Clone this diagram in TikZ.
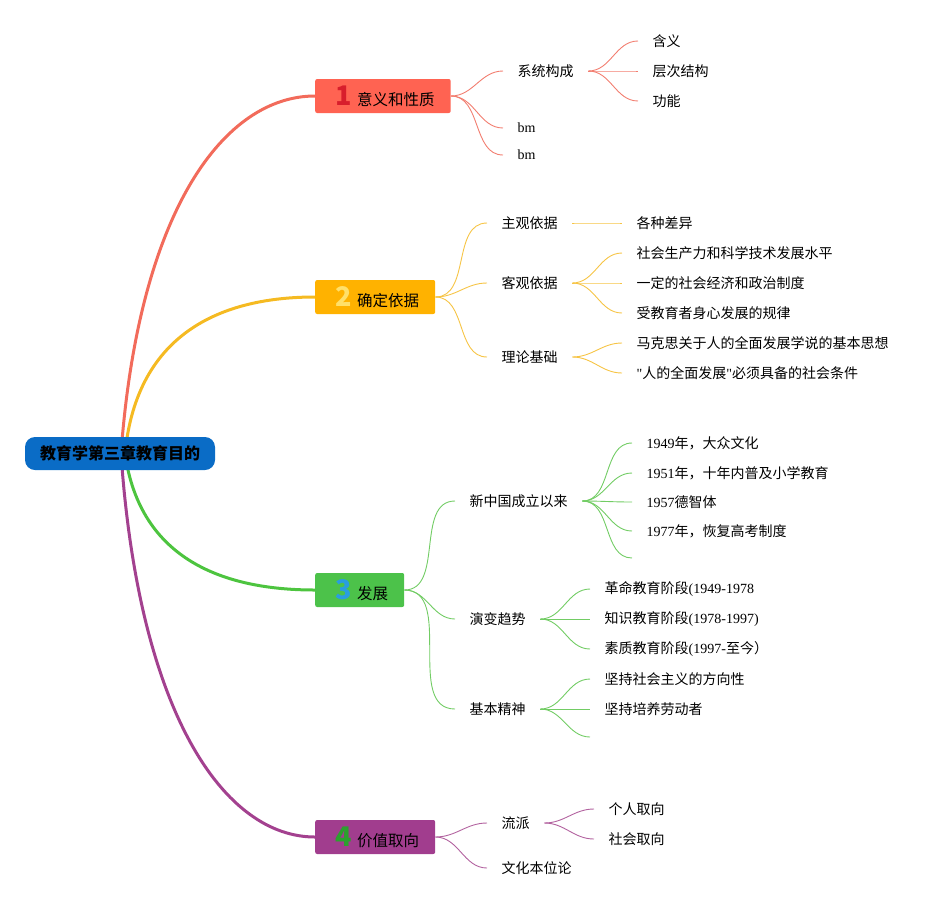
\documentclass[tikz,border=0pt]{standalone}
\usepackage{fontspec}
\setmainfont{Noto Sans CJK SC}
\newfontfamily\latinserif{Liberation Serif}
\usetikzlibrary{positioning,backgrounds}

\definecolor{rootblue}{HTML}{0A6CC6}
\definecolor{topicred}{HTML}{FF6352}
\definecolor{topicyellow}{HTML}{FFB200}
\definecolor{topicgreen}{HTML}{4CC24A}
\definecolor{topicpurple}{HTML}{A13D8E}
\definecolor{numred}{HTML}{D81E2C}
\definecolor{numyellow}{HTML}{FFE06A}
\definecolor{numblue}{HTML}{2A9DE0}
\definecolor{numgreen}{HTML}{2CA02E}
\definecolor{limbred}{HTML}{F26B5B}
\definecolor{limbyellow}{HTML}{F5BA22}
\definecolor{limbgreen}{HTML}{4DC43F}
\definecolor{limbpurple}{HTML}{A3418F}
\definecolor{twigred}{HTML}{F27E70}
\definecolor{twigyellow}{HTML}{F6C445}
\definecolor{twiggreen}{HTML}{72CC64}
\definecolor{twigpurple}{HTML}{B2629F}

\newcommand\topicnum[2]{\makebox[26pt][c]{\color{#1}\fontsize{27}{27}\selectfont\bfseries #2}}

\begin{document}
\begin{tikzpicture}[
  x=1pt,y=-1pt,
  font=\fontsize{14}{16}\selectfont,
  topicbox/.style={anchor=west,rounded corners=2pt,minimum height=34pt,
    inner xsep=16pt,inner ysep=0pt,font=\fontsize{15.5}{17}\selectfont},
  subitem/.style={anchor=west,inner xsep=14.5pt,inner ysep=2pt},
  limb/.style={line width=3pt},
  twig/.style={line width=.9pt},
  branch/.style={out=0,in=180}
]
\useasboundingbox (0,0) rectangle (949,908);
% root and the four topics
\node[fill=rootblue,rounded corners=10pt,minimum width=190pt,minimum height=33pt,
  font=\bfseries\fontsize{16}{18}\selectfont] (root) at (120,453.5) {教育学第三章教育目的};
\node[topicbox,fill=topicred] (meaning) at (315,96) {\topicnum{numred}{1}意义和性质};
\node[topicbox,fill=topicyellow] (basis) at (315,297) {\topicnum{numyellow}{2}确定依据};
\node[topicbox,fill=topicgreen] (growth) at (315,590) {\topicnum{numblue}{3}发展};
\node[topicbox,fill=topicpurple] (values) at (315,837) {\topicnum{numgreen}{4}价值取向};
\begin{scope}[on background layer]
  \draw[limb,limbred] ([xshift=1pt]root.center) .. controls +(18,-245) and +(-90,0) .. (meaning.west);
  \draw[limb,limbyellow] ([xshift=5pt]root.center) .. controls +(12,-123) and +(-90,0) .. (basis.west);
  \draw[limb,limbgreen] ([xshift=5pt]root.center) .. controls +(15,107) and +(-90,0) .. (growth.west);
  \draw[limb,limbpurple] ([xshift=1pt]root.center) .. controls +(18,262) and +(-90,0) .. (values.west);
\end{scope}

% 1 意义和性质
\node[subitem] (syscomp) at (503,71) {系统构成};
\node[subitem] (bmone) at (503,128) {\latinserif bm};
\node[subitem] (bmtwo) at (503,155) {\latinserif bm};
\node[subitem] (hanyi) at (638,41) {含义};
\node[subitem] (cengci) at (638,71) {层次结构};
\node[subitem] (gongneng) at (638,101) {功能};
\foreach \child in {syscomp,bmone,bmtwo}
  \draw[twig,twigred] (meaning.east) to[branch] (\child.west);
\foreach \child in {hanyi,cengci,gongneng}
  \draw[twig,twigred] (syscomp.east) to[branch] (\child.west);

% 2 确定依据
\node[subitem] (subjective) at (487,223) {主观依据};
\node[subitem] (objective) at (487,283) {客观依据};
\node[subitem] (theory) at (487,357) {理论基础};
\node[subitem] (diffs) at (622,223) {各种差异};
\node[subitem] (productivity) at (622,253) {社会生产力和科学技术发展水平};
\node[subitem] (system) at (622,283) {一定的社会经济和政治制度};
\node[subitem] (learners) at (622,313) {受教育者身心发展的规律};
\node[subitem] (marx) at (622,343) {马克思关于人的全面发展学说的基本思想};
\node[subitem] (conditions) at (622,373) {{\latinserif "}人的全面发展{\latinserif "}必须具备的社会条件};
\foreach \child in {subjective,objective,theory}
  \draw[twig,twigyellow] (basis.east) to[branch] (\child.west);
\draw[twig,twigyellow] (subjective.east) to[branch] (diffs.west);
\foreach \child in {productivity,system,learners}
  \draw[twig,twigyellow] (objective.east) to[branch] (\child.west);
\foreach \child in {marx,conditions}
  \draw[twig,twigyellow] (theory.east) to[branch] (\child.west);

% 3 发展
\node[subitem] (newchina) at (455,501) {新中国成立以来};
\node[subitem] (trend) at (455,619) {演变趋势};
\node[subitem] (spirit) at (455,709) {基本精神};
\node[subitem] (yearone) at (632,443) {{\latinserif 1949}年，大众文化};
\node[subitem] (yeartwo) at (632,473) {{\latinserif 1951}年，十年内普及小学教育};
\node[subitem] (yearthree) at (632,502) {{\latinserif 1957}德智体};
\node[subitem] (yearfour) at (632,531) {{\latinserif 1977}年，恢复高考制度};
\coordinate (yearblank) at (632,558);
\node[subitem] (stageone) at (590,589) {革命教育阶段{\latinserif (1949-1978}};
\node[subitem] (stagetwo) at (590,619) {知识教育阶段{\latinserif (1978-1997)}};
\node[subitem] (stagethree) at (590,649) {素质教育阶段{\latinserif (1997-}至今）};
\node[subitem] (socialism) at (590,679) {坚持社会主义的方向性};
\node[subitem] (labour) at (590,709) {坚持培养劳动者};
\coordinate (spiritblank) at (590,737);
\foreach \child in {newchina,trend,spirit}
  \draw[twig,twiggreen] (growth.east) to[branch] (\child.west);
\foreach \child in {yearone.west,yeartwo.west,yearthree.west,yearfour.west,yearblank}
  \draw[twig,twiggreen] (newchina.east) to[branch] (\child);
\foreach \child in {stageone,stagetwo,stagethree}
  \draw[twig,twiggreen] (trend.east) to[branch] (\child.west);
\foreach \child in {socialism.west,labour.west,spiritblank}
  \draw[twig,twiggreen] (spirit.east) to[branch] (\child);

% 4 价值取向
\node[subitem] (schools) at (487,823) {流派};
\node[subitem] (culture) at (487,868) {文化本位论};
\node[subitem] (personal) at (594,809) {个人取向};
\node[subitem] (social) at (594,839) {社会取向};
\foreach \child in {schools,culture}
  \draw[twig,twigpurple] (values.east) to[branch] (\child.west);
\foreach \child in {personal,social}
  \draw[twig,twigpurple] (schools.east) to[branch] (\child.west);
\end{tikzpicture}
\end{document}
